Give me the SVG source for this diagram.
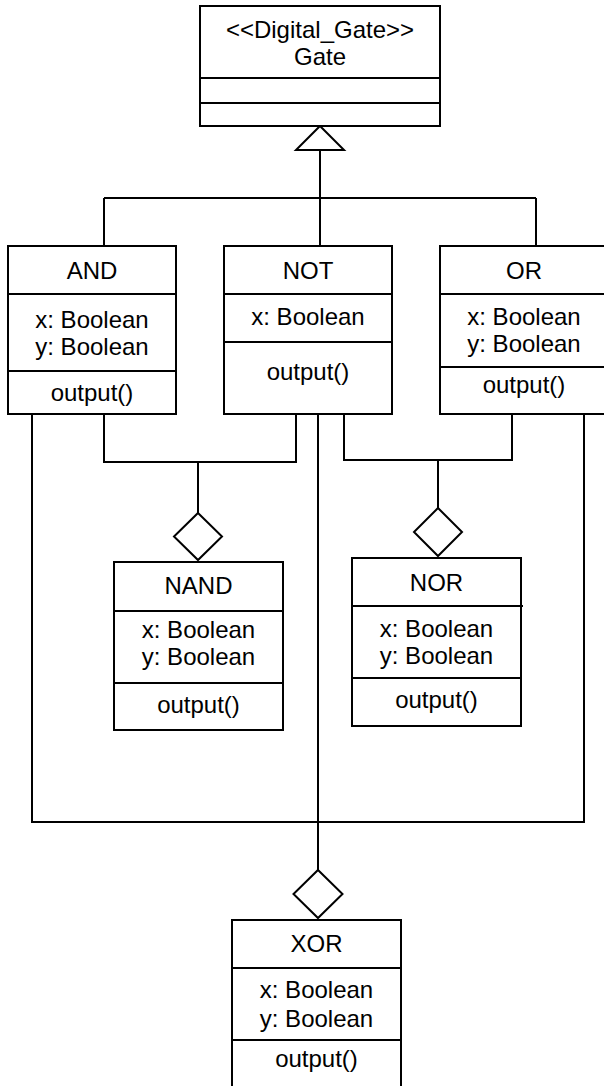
<svg xmlns="http://www.w3.org/2000/svg" width="604" height="1086" viewBox="0 0 604 1086">
<style>
.box{fill:#fff;stroke:#000;stroke-width:2}
.ln{fill:none;stroke:#000;stroke-width:2}
.hd{fill:#fff;stroke:#000;stroke-width:2}
text{font-family:"Liberation Sans",Arial,sans-serif;font-size:24px;fill:#000;text-anchor:middle}
</style>
<rect width="604" height="1086" fill="#fff"/>
<g id="connectors">
  <line class="ln" x1="320" y1="150" x2="320" y2="246"/>
  <line class="ln" x1="104" y1="198" x2="536" y2="198"/>
  <line class="ln" x1="104" y1="198" x2="104" y2="246"/>
  <line class="ln" x1="536" y1="198" x2="536" y2="246"/>
  <polygon class="hd" points="320,126 344,150 296,150"/>
  <polyline class="ln" points="104,414 104,462 296,462 296,414"/>
  <line class="ln" x1="198" y1="462" x2="198" y2="513"/>
  <polygon class="hd" points="198,513 222,536.5 198,560 174,536.5"/>
  <polyline class="ln" points="344,414 344,460 512,460 512,414"/>
  <line class="ln" x1="438" y1="460" x2="438" y2="508"/>
  <polygon class="hd" points="438,508 462,532 438,556 414,532"/>
  <polyline class="ln" points="32,414 32,822 584,822 584,414"/>
  <line class="ln" x1="318" y1="414" x2="318" y2="870"/>
  <polygon class="hd" points="318,870 342.5,894 318,918 293.5,894"/>
</g>
<g id="Gate">
  <rect class="box" x="200" y="6" width="240" height="120"/>
  <line class="ln" x1="200" y1="78" x2="440" y2="78"/>
  <line class="ln" x1="200" y1="103" x2="440" y2="103"/>
  <text x="320" y="38">&lt;&lt;Digital_Gate&gt;&gt;</text>
  <text x="320" y="65">Gate</text>
</g>
<g id="AND">
  <rect class="box" x="8" y="246" width="168" height="168"/>
  <line class="ln" x1="8" y1="294" x2="176" y2="294"/>
  <line class="ln" x1="8" y1="371" x2="176" y2="371"/>
  <text x="92" y="279">AND</text>
  <text x="92" y="328">x: Boolean</text>
  <text x="92" y="355">y: Boolean</text>
  <text x="92" y="401">output()</text>
</g>
<g id="NOT">
  <rect class="box" x="224" y="246" width="168" height="168"/>
  <line class="ln" x1="224" y1="294" x2="392" y2="294"/>
  <line class="ln" x1="224" y1="342" x2="392" y2="342"/>
  <text x="308" y="279">NOT</text>
  <text x="308" y="325">x: Boolean</text>
  <text x="308" y="380">output()</text>
</g>
<g id="OR">
  <rect class="box" x="440" y="246" width="168" height="168"/>
  <line class="ln" x1="440" y1="294" x2="608" y2="294"/>
  <line class="ln" x1="440" y1="367" x2="608" y2="367"/>
  <text x="524" y="279">OR</text>
  <text x="524" y="325">x: Boolean</text>
  <text x="524" y="352">y: Boolean</text>
  <text x="524" y="393">output()</text>
</g>
<g id="NAND">
  <rect class="box" x="114" y="562" width="169" height="168"/>
  <line class="ln" x1="114" y1="611" x2="283" y2="611"/>
  <line class="ln" x1="114" y1="683" x2="283" y2="683"/>
  <text x="198.5" y="594">NAND</text>
  <text x="198.5" y="638">x: Boolean</text>
  <text x="198.5" y="665">y: Boolean</text>
  <text x="198.5" y="713">output()</text>
</g>
<g id="NOR">
  <rect class="box" x="352" y="558" width="169" height="168"/>
  <line class="ln" x1="352" y1="606" x2="523" y2="606"/>
  <line class="ln" x1="352" y1="678" x2="521" y2="678"/>
  <text x="436.5" y="591">NOR</text>
  <text x="436.5" y="637">x: Boolean</text>
  <text x="436.5" y="664">y: Boolean</text>
  <text x="436.5" y="708">output()</text>
</g>
<g id="XOR">
  <rect class="box" x="232" y="920" width="169" height="168"/>
  <line class="ln" x1="232" y1="968" x2="401" y2="968"/>
  <line class="ln" x1="232" y1="1040" x2="401" y2="1040"/>
  <text x="316.5" y="952">XOR</text>
  <text x="316.5" y="998">x: Boolean</text>
  <text x="316.5" y="1027">y: Boolean</text>
  <text x="316.5" y="1067">output()</text>
</g>
</svg>
